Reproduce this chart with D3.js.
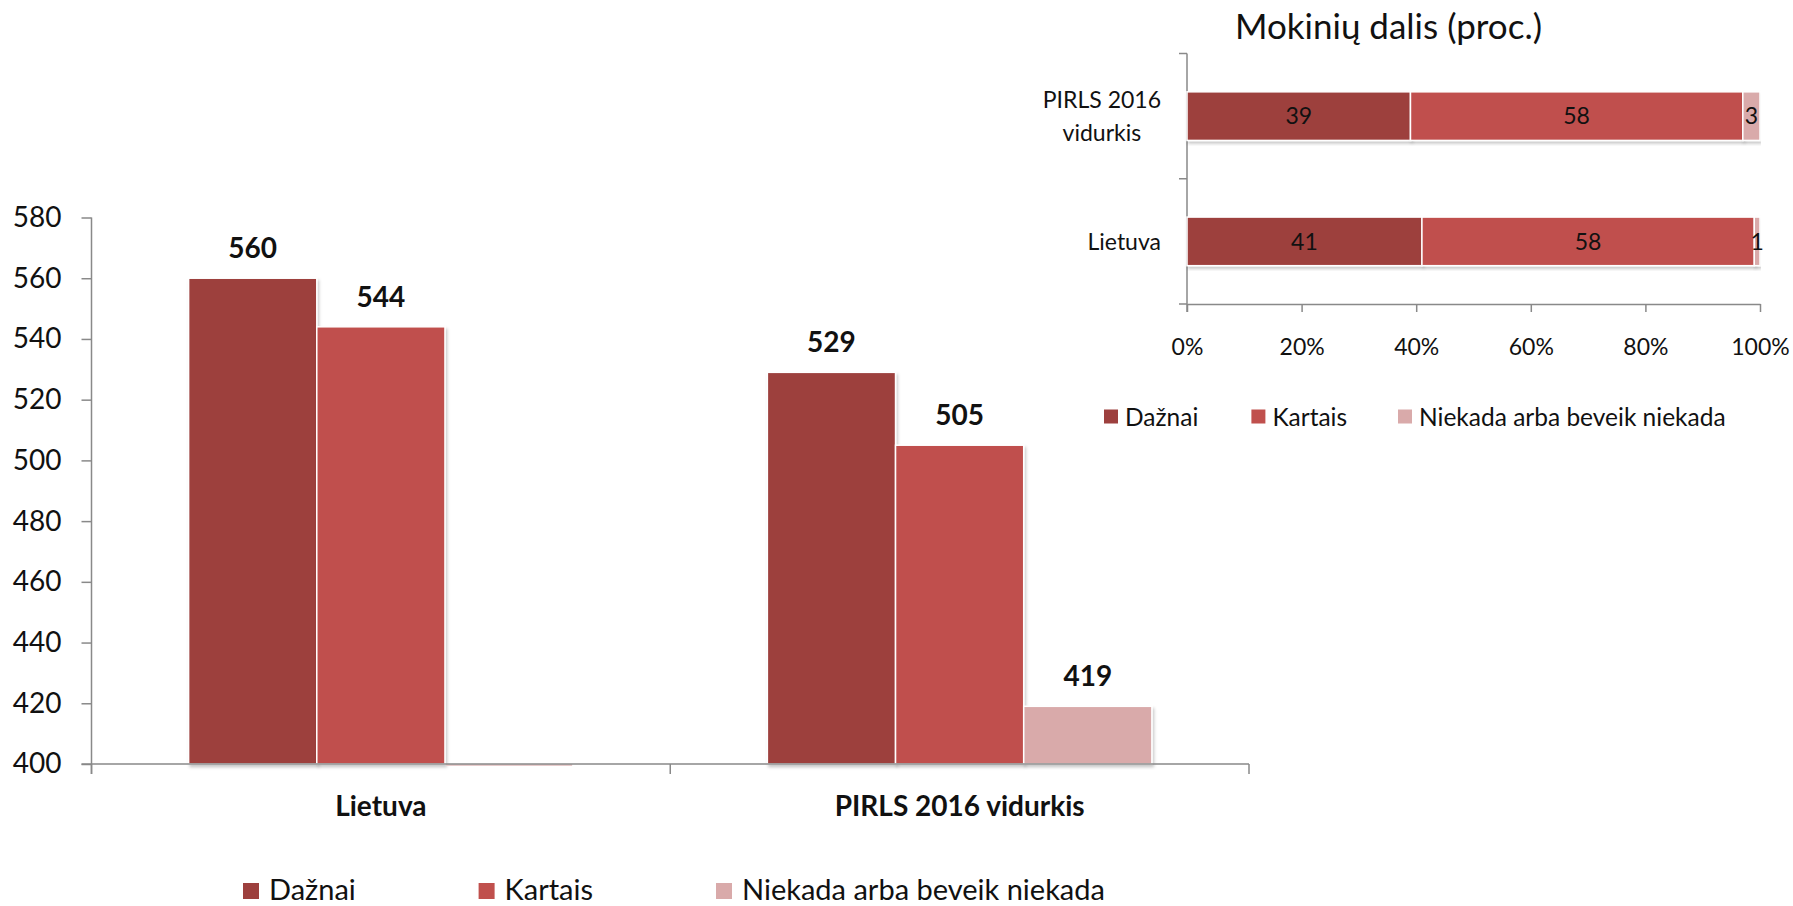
<!DOCTYPE html>
<html>
<head>
<meta charset="utf-8">
<script src="https://cdn.jsdelivr.net/npm/d3@7"></script>
<style>
html,body{margin:0;padding:0;background:#fff;}
svg{display:block;font-family:Lato,"Open Sans",sans-serif;}
</style>
</head>
<body>
<svg id="chart" width="1793" height="906"></svg>
<script>
// ---------- data ----------
const categories = ["Lietuva", "PIRLS 2016 vidurkis"];
const seriesNames = ["Dažnai", "Kartais", "Niekada arba beveik niekada"];
const scoreDaznai = [560, 529];
const scoreKartais = [544, 505];
const scoreNiekada = [null, 419];
const scoreTicks = [400, 420, 440, 460, 480, 500, 520, 540, 560, 580];

const shareTitle = "Mokinių dalis (proc.)";
const shareCategories = ["PIRLS 2016 vidurkis", "Lietuva"];
const shareDaznai = [39, 41];
const shareKartais = [58, 58];
const shareNiekada = [3, 1];
const shareTicks = [0, 20, 40, 60, 80, 100];

const colors = ["#9D403E", "#C0504D", "#D9AAAA"];
const axisColor = "#898989";

const svg = d3.select("#chart");
const defs = svg.append("defs");
const f = defs.append("filter").attr("id", "shadow").attr("x", "-5%").attr("y", "-5%").attr("width", "110%").attr("height", "115%");
f.append("feDropShadow").attr("dx", 1.5).attr("dy", 2.5).attr("stdDeviation", 1.8)
  .attr("flood-color", "#000").attr("flood-opacity", 0.22);

// ---------- main grouped bar chart ----------
const mainSeries = [scoreDaznai, scoreKartais, scoreNiekada];
const y = d3.scaleLinear().domain([400, 580]).range([764, 217.5]);
const x0 = d3.scaleBand().domain(categories).range([91.5, 1249]).paddingInner(0.3356).paddingOuter(0.1678);
const x1 = d3.scaleBand().domain(d3.range(seriesNames.length)).range([0, x0.bandwidth()]).padding(0);

// y axis
const yAxis = svg.append("g").attr("transform", `translate(${x0.range()[0]},0)`)
  .call(d3.axisLeft(y).tickValues(scoreTicks).tickSize(10).tickPadding(20).tickSizeOuter(0));
yAxis.select(".domain").attr("stroke", axisColor).attr("stroke-width", 1.5)
  .attr("d", `M0,${y(580)}V${y(400) + 10}`);
yAxis.selectAll(".tick line").attr("stroke", axisColor).attr("stroke-width", 1.5);
yAxis.selectAll(".tick text").attr("fill", "#111").style("font-size", "28px").style("font-family", "Lato");

// bars
const groups = svg.append("g").selectAll("g").data(categories).join("g")
  .attr("transform", d => `translate(${x0(d)},0)`);
const barData = (c, ci) => mainSeries.map((s, si) => ({si, v: s[ci]}));
groups.each(function(c, ci) {
  const g = d3.select(this);
  const data = barData(c, ci);
  g.selectAll("rect.bar").data(data.filter(d => d.v !== null)).join("rect")
    .attr("class", "bar")
    .attr("x", d => x1(d.si))
    .attr("width", x1.bandwidth())
    .attr("y", d => y(d.v))
    .attr("height", d => y(400) - y(d.v))
    .attr("fill", d => colors[d.si])
    .attr("stroke", "#fff").attr("stroke-width", 1.5)
    .attr("filter", "url(#shadow)");
  g.selectAll("rect.nodata").data(data.filter(d => d.v === null)).join("rect")
    .attr("class", "nodata")
    .attr("x", d => x1(d.si) + 1)
    .attr("width", x1.bandwidth() - 2)
    .attr("y", y(400))
    .attr("height", 2)
    .attr("fill", "#E6CACA");
  g.selectAll("text.val").data(data.filter(d => d.v !== null)).join("text")
    .attr("class", "val")
    .attr("x", d => x1(d.si) + x1.bandwidth() / 2)
    .attr("y", d => y(d.v) - 20)
    .attr("text-anchor", "middle")
    .style("font-size", "28px").style("font-weight", "700").attr("fill", "#111")
    .text(d => d.v);
});

// x axis
const xr = x0.range();
const step = x0.step();
const bounds = [xr[0], xr[0] + step, xr[1]];
const xAxisG = svg.append("g");
xAxisG.append("line").attr("x1", xr[0] - 10).attr("x2", xr[1]).attr("y1", y(400)).attr("y2", y(400))
  .attr("stroke", axisColor).attr("stroke-width", 1.5);
xAxisG.selectAll("line.tk").data(bounds).join("line").attr("class", "tk")
  .attr("x1", d => d).attr("x2", d => d).attr("y1", y(400)).attr("y2", y(400) + 10)
  .attr("stroke", axisColor).attr("stroke-width", 1.5);
xAxisG.selectAll("text").data(categories).join("text")
  .attr("x", d => x0(d) + x0.bandwidth() / 2)
  .attr("y", 816)
  .attr("text-anchor", "middle")
  .style("font-size", "28px").style("font-weight", "700").attr("fill", "#111")
  .text(d => d);

// bottom legend
const legendX = [243, 478.6, 716];
const leg = svg.append("g").selectAll("g").data(seriesNames).join("g")
  .attr("transform", (d, i) => `translate(${legendX[i]},890)`);
leg.append("rect").attr("x", 0).attr("y", -7).attr("width", 16).attr("height", 16).attr("fill", (d, i) => colors[i]);
leg.append("text").attr("x", 26).attr("y", 10).style("font-size", "29px").attr("fill", "#111").text(d => d);

// ---------- inset stacked bar chart ----------
const sx = d3.scaleLinear().domain([0, 100]).range([1187, 1760]);
const sy = d3.scaleBand().domain(shareCategories).range([53.5, 304]).paddingInner(0.612).paddingOuter(0.306);
const shareSeries = [shareDaznai, shareKartais, shareNiekada];

svg.append("text").attr("x", 1388.5).attr("y", 39).attr("text-anchor", "middle")
  .style("font-size", "35px").attr("fill", "#111").text(shareTitle);

// y axis of inset
const iy = svg.append("g");
iy.append("line").attr("x1", sx(0)).attr("x2", sx(0)).attr("y1", sy.range()[0]).attr("y2", sy.range()[1] + 8)
  .attr("stroke", axisColor).attr("stroke-width", 1.5);
const ybounds = [sy.range()[0], sy.range()[0] + (sy.range()[1] - sy.range()[0]) / 2, sy.range()[1]];
iy.selectAll("line.tk").data(ybounds).join("line").attr("class", "tk")
  .attr("x1", sx(0) - 8).attr("x2", sx(0)).attr("y1", d => d).attr("y2", d => d)
  .attr("stroke", axisColor).attr("stroke-width", 1.5);

// x axis of inset
const ixAxis = svg.append("g").attr("transform", `translate(0,${sy.range()[1]})`)
  .call(d3.axisBottom(sx).tickValues(shareTicks).tickFormat(d => d + "%").tickSize(8).tickPadding(27).tickSizeOuter(0));
ixAxis.select(".domain").attr("stroke", axisColor).attr("stroke-width", 1.5);
ixAxis.selectAll(".tick line").attr("stroke", axisColor).attr("stroke-width", 1.5);
ixAxis.selectAll(".tick text").attr("fill", "#111").style("font-size", "23px").style("font-family", "Lato");

// stacked bars
shareCategories.forEach((c, ci) => {
  let acc = 0;
  const segs = shareSeries.map((s, si) => { const d = {si, v: s[ci], start: acc}; acc += s[ci]; return d; });
  const g = svg.append("g");
  g.selectAll("rect").data(segs).join("rect")
    .attr("x", d => sx(d.start))
    .attr("width", d => sx(d.start + d.v) - sx(d.start))
    .attr("y", sy(c))
    .attr("height", sy.bandwidth())
    .attr("fill", d => colors[d.si])
    .attr("stroke", "#fff").attr("stroke-width", 1.5)
    .attr("filter", "url(#shadow)");
  g.selectAll("text").data(segs).join("text")
    .attr("x", d => sx(d.start + d.v / 2))
    .attr("y", sy(c) + sy.bandwidth() / 2 + 8.3)
    .attr("text-anchor", "middle")
    .style("font-size", "23px").attr("fill", "#111")
    .text(d => d.v);
});

// inset category labels (wrapped, block right-aligned, lines centered)
const labelLines = {"PIRLS 2016 vidurkis": ["PIRLS 2016", "vidurkis"], "Lietuva": ["Lietuva"]};
const labelRight = 1161;
shareCategories.forEach(c => {
  const lines = labelLines[c];
  const g = svg.append("g");
  const cy = sy(c) + sy.bandwidth() / 2;
  const lh = 33;
  const texts = g.selectAll("text").data(lines).join("text")
    .attr("y", (d, i) => cy + (i - (lines.length - 1) / 2) * lh + 8.3)
    .attr("text-anchor", "middle")
    .style("font-size", "23px").attr("fill", "#111")
    .text(d => d);
  let maxW = 0;
  texts.each(function() { maxW = Math.max(maxW, this.getComputedTextLength()); });
  texts.attr("x", labelRight - maxW / 2);
});

// inset legend
const ilegX = [1104, 1251.4, 1398];
const ileg = svg.append("g").selectAll("g").data(seriesNames).join("g")
  .attr("transform", (d, i) => `translate(${ilegX[i]},416.5)`);
ileg.append("rect").attr("x", 0).attr("y", -7).attr("width", 14).attr("height", 14).attr("fill", (d, i) => colors[i]);
ileg.append("text").attr("x", 21).attr("y", 9).style("font-size", "24.5px").attr("fill", "#111").text(d => d);
</script>
</body>
</html>
